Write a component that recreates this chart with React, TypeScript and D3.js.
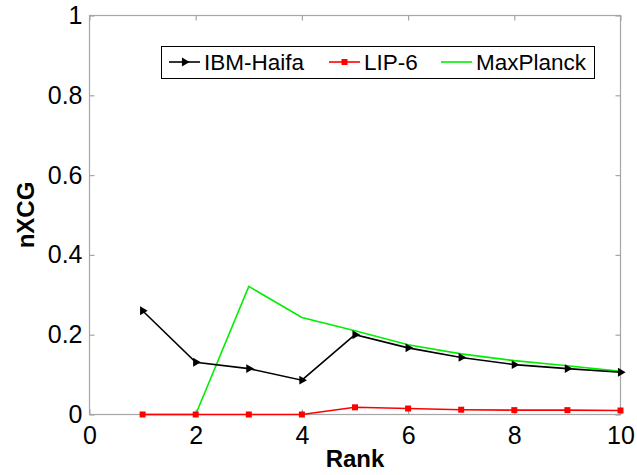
import React, { useEffect, useRef } from 'react';
import * as d3 from 'd3';

// ranks on the x axis
const ranks = [1, 2, 3, 4, 5, 6, 7, 8, 9, 10];

// nXCG per rank
const ibmHaifa = [0.26, 0.131, 0.115, 0.086, 0.2, 0.167, 0.143, 0.125, 0.115, 0.106];
const lip6 = [0, 0, 0, 0, 0.018, 0.015, 0.012, 0.011, 0.011, 0.01];
const maxPlanck = [0, 0, 0.321, 0.243, 0.21, 0.175, 0.152, 0.135, 0.122, 0.108];

const xTicks = [0, 2, 4, 6, 8, 10];
const yTicks = [0, 0.2, 0.4, 0.6, 0.8, 1];

const seriesNames = ['IBM-Haifa', 'LIP-6', 'MaxPlanck'];

const App = () => {
  const svgRef = useRef<SVGSVGElement | null>(null);

  useEffect(() => {
    const svg = d3.select(svgRef.current);
    svg.selectAll('*').remove();

    const font = '"Liberation Sans", Arial, sans-serif';
    const axisGray = '#a6a6a6';

    const x = d3.scaleLinear().domain([0, 10]).range([89.5, 620.5]);
    const y = d3.scaleLinear().domain([0, 1]).range([414.5, 15.5]);

    // plot box
    svg.append('rect')
      .attr('x', x(0)).attr('y', y(1))
      .attr('width', x(10) - x(0)).attr('height', y(0) - y(1))
      .attr('fill', 'white').attr('stroke', axisGray).attr('stroke-width', 1.2);

    const styleAxis = (g: any, withText: boolean) => {
      g.select('.domain').remove();
      g.selectAll('.tick line').attr('stroke', axisGray).attr('stroke-width', 1.2);
      g.selectAll('.tick text')
        .attr('fill', withText ? '#000' : 'none')
        .style('font-family', font)
        .style('font-size', '25px');
    };

    svg.append('g')
      .attr('transform', `translate(0,${y(0)})`)
      .call(d3.axisBottom(x).tickValues(xTicks).tickFormat(d => String(d))
        .tickSizeInner(-5).tickSizeOuter(0).tickPadding(12))
      .call((g: any) => styleAxis(g, true));

    svg.append('g')
      .attr('transform', `translate(0,${y(1)})`)
      .call(d3.axisTop(x).tickValues(xTicks).tickFormat(() => '')
        .tickSizeInner(-5).tickSizeOuter(0))
      .call((g: any) => styleAxis(g, false));

    svg.append('g')
      .attr('transform', `translate(${x(0)},0)`)
      .call(d3.axisLeft(y).tickValues(yTicks).tickFormat(d => String(d))
        .tickSizeInner(-5).tickSizeOuter(0).tickPadding(7))
      .call((g: any) => styleAxis(g, true));

    svg.append('g')
      .attr('transform', `translate(${x(10)},0)`)
      .call(d3.axisRight(y).tickValues(yTicks).tickFormat(() => '')
        .tickSizeInner(-5).tickSizeOuter(0))
      .call((g: any) => styleAxis(g, false));

    // axis titles
    svg.append('text')
      .attr('x', 355).attr('y', 467)
      .attr('text-anchor', 'middle')
      .style('font-family', font).style('font-size', '24px').style('font-weight', 'bold')
      .text('Rank');

    svg.append('text')
      .attr('transform', 'translate(34,215) rotate(-90)')
      .attr('text-anchor', 'middle')
      .style('font-family', font).style('font-size', '24px').style('font-weight', 'bold')
      .text('nXCG');

    const line = d3.line<number>()
      .x((d, i) => x(ranks[i]))
      .y(d => y(d));

    const tri = d3.symbol().type(d3.symbolTriangle).size(34);
    const sq = d3.symbol().type(d3.symbolSquare).size(36);

    // MaxPlanck (green, no markers)
    svg.append('path').datum(maxPlanck)
      .attr('d', line).attr('fill', 'none')
      .attr('stroke', '#00ee00').attr('stroke-width', 1.6);

    // LIP-6 (red squares)
    svg.append('path').datum(lip6)
      .attr('d', line).attr('fill', 'none')
      .attr('stroke', '#ff0000').attr('stroke-width', 1.6);
    svg.append('g').selectAll('path').data(lip6).join('path')
      .attr('d', sq)
      .attr('transform', (d, i) => `translate(${x(ranks[i])},${y(d)})`)
      .attr('fill', '#ff0000');

    // IBM-Haifa (black, right-pointing triangles)
    svg.append('path').datum(ibmHaifa)
      .attr('d', line).attr('fill', 'none')
      .attr('stroke', '#000').attr('stroke-width', 1.6);
    svg.append('g').selectAll('path').data(ibmHaifa).join('path')
      .attr('d', tri)
      .attr('transform', (d, i) => `translate(${x(ranks[i])},${y(d)}) rotate(90)`)
      .attr('fill', '#000');

    // legend
    const legend = svg.append('g');
    legend.append('rect')
      .attr('x', 161.5).attr('y', 46.5).attr('width', 433).attr('height', 32)
      .attr('fill', 'white').attr('stroke', '#000').attr('stroke-width', 1);

    const legendX = [169, 329, 441];
    const legendColors = ['#000', '#ff0000', '#00ee00'];
    seriesNames.forEach((name, i) => {
      const lx = legendX[i];
      legend.append('line')
        .attr('x1', lx).attr('x2', lx + 31).attr('y1', 62).attr('y2', 62)
        .attr('stroke', legendColors[i]).attr('stroke-width', 1.6);
      if (i === 0) {
        legend.append('path').attr('d', tri)
          .attr('transform', `translate(${lx + 15.5},62) rotate(90)`).attr('fill', '#000');
      } else if (i === 1) {
        legend.append('path').attr('d', sq)
          .attr('transform', `translate(${lx + 15.5},62)`).attr('fill', '#ff0000');
      }
      legend.append('text')
        .attr('x', lx + 35).attr('y', 70)
        .style('font-family', font).style('font-size', '22.5px')
        .text(name);
    });
  }, []);

  return (
    <svg
      ref={svgRef}
      width={637}
      height={475}
      style={{ position: 'absolute', left: 0, top: 0, background: 'white' }}
    />
  );
};

export default App;
